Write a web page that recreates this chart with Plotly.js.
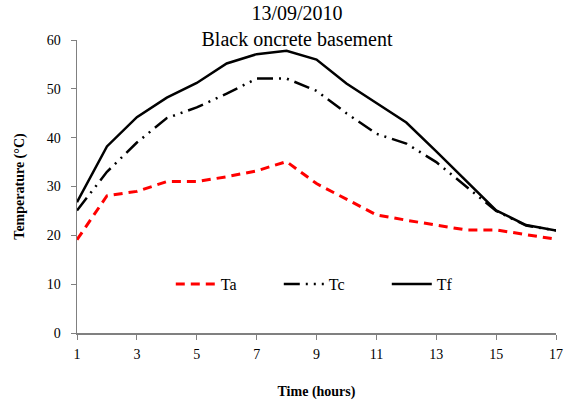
<!DOCTYPE html>
<html>
<head>
<meta charset="utf-8">
<script src="https://cdn.plot.ly/plotly-3.0.1.min.js"></script>
<style>html,body{margin:0;padding:0;background:#fff;}#chart{width:569px;height:405px;}</style>
</head>
<body>
<div id="chart"></div>
<script>
const hours = [1,2,3,4,5,6,7,8,9,10,11,12,13,14,15,16,17];
const Ta = [19.1,28.1,29,31,31,32,33.2,35.1,30.6,27.4,24.2,23.1,22.1,21.1,21.1,20.2,19.2];
const Tc = [25.1,33,39,44,46.2,49,52.1,52.1,49.6,45,40.8,38.8,35,30,25,22,21];
const Tf = [26.8,38.2,44.2,48.2,51.2,55.2,57.1,57.8,56,51.1,47.1,43.1,37.2,31.2,25.1,22.1,21];
const xTicks = [1,3,5,7,9,11,13,15,17];
const yTicks = [0,10,20,30,40,50,60];

const serif = "Liberation Serif";
const traces = [
  {x: hours, y: Ta, name: 'Ta', mode: 'lines', line: {color: '#ff0000', width: 3, dash: '9px,6px'}},
  {x: hours, y: Tc, name: 'Tc', mode: 'lines', line: {color: '#000000', width: 2.5, dash: '16px,6px,2px,6px,2px,6px'}},
  {x: hours, y: Tf, name: 'Tf', mode: 'lines', line: {color: '#000000', width: 2.5}}
];
const layout = {
  width: 569, height: 405,
  margin: {l: 77, r: 13, t: 40, b: 72},
  paper_bgcolor: '#fff', plot_bgcolor: '#fff',
  font: {family: serif, size: 14, color: '#000'},
  title: {text: '13/09/2010<br>Black oncrete basement', x: 297/569, xref: 'container', xanchor: 'center',
          y: 1 - 20/405, yref: 'container', yanchor: 'middle', font: {family: serif, size: 20, color: '#000'}},
  showlegend: true,
  legend: {orientation: 'h', x: 0.534, xanchor: 'center', y: 0.167, yanchor: 'middle',
           font: {family: serif, size: 16, color: '#000'}, itemwidth: 40,
           entrywidth: 53, entrywidthmode: 'pixels',
           bgcolor: 'rgba(0,0,0,0)'},
  xaxis: {range: [1, 17], tickvals: xTicks, ticktext: xTicks.map(String), showgrid: false, zeroline: false,
          showline: true, linecolor: '#808080', linewidth: 1.5, ticks: 'outside', ticklen: 5, tickcolor: '#808080',
          ticklabelstandoff: 3,
          tickfont: {family: serif, size: 14, color: '#000'},
          title: {text: '<b>Time (hours)</b>', font: {family: serif, size: 14, color: '#000'}, standoff: 25}},
  yaxis: {range: [0, 60], tickvals: yTicks, showgrid: false, zeroline: false,
          showline: true, linecolor: '#808080', linewidth: 1.5, ticks: 'outside', ticklen: 5, tickcolor: '#808080',
          ticklabelstandoff: 7,
          tickfont: {family: serif, size: 14, color: '#000'},
          title: {text: '<b>Temperature (°C)</b>', font: {family: serif, size: 14, color: '#000'}, standoff: 19}}
};
Plotly.newPlot('chart', traces, layout, {displayModeBar: false, staticPlot: true});
</script>
</body>
</html>
